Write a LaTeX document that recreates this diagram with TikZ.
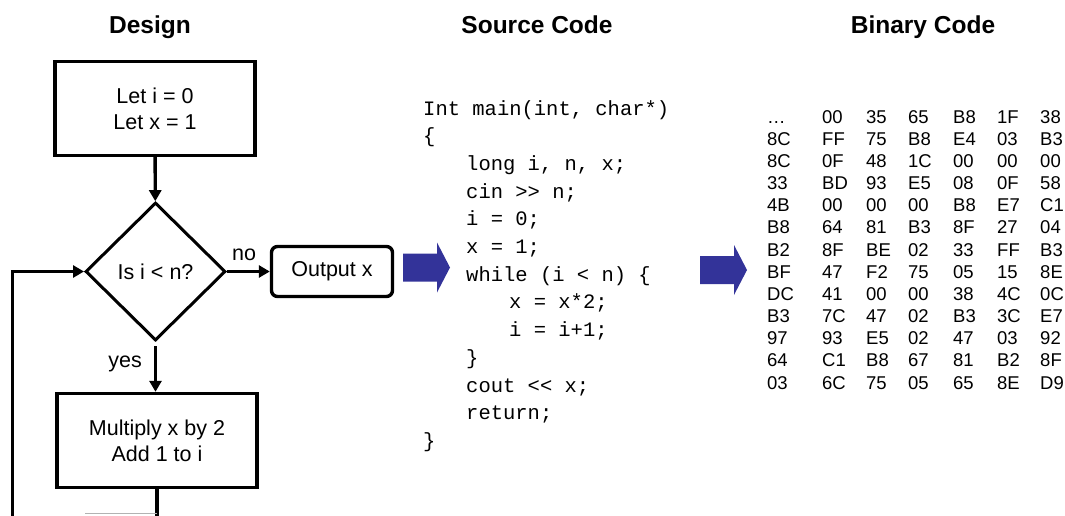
\documentclass[tikz,border=0pt]{standalone}
\usepackage{fontspec}
\setmainfont{Liberation Sans}
\setmonofont{Liberation Mono}
\usetikzlibrary{arrows.meta,shapes.geometric,positioning}
\definecolor{arrowblue}{RGB}{51,51,153}

\begin{document}
\begin{tikzpicture}[x=1pt,y=-1pt,
  title/.style={font=\bfseries\fontsize{24.5}{28}\selectfont,anchor=base,inner sep=0pt},
  stepbox/.style={draw,line width=3.4pt,align=center,minimum width=200pt,minimum height=94pt,font=\fontsize{21.5}{26}\selectfont},
  testbox/.style={diamond,draw,line width=3pt,minimum width=140pt,minimum height=138pt,inner sep=0pt,font=\fontsize{21.5}{24}\selectfont},
  outbox/.style={draw,line width=3.4pt,rounded corners=6pt,minimum width=121pt,minimum height=50pt,font=\fontsize{21.5}{24}\selectfont},
  flow/.style={line width=3.4pt,-{Triangle[length=11pt,width=12pt]}},
  lab/.style={font=\fontsize{21.5}{24}\selectfont,inner sep=0pt},
  code/.style={font=\ttfamily\fontsize{20.5}{24}\selectfont,anchor=base west,inner sep=0pt},
  hex/.style={font=\fontsize{18.5}{20}\selectfont,anchor=base west,inner sep=0pt}]
\useasboundingbox (0,0) rectangle (1065,515);
\clip (0,0) rectangle (1065,515);

\node[title] (design) at (150,33) {Design};
\node[title] (source) at (537,33) {Source Code};
\node[title] (binary) at (923,33) {Binary Code};

% flow chart
\node[stepbox] (init) at (155,108.5) {Let i = 0\\Let x = 1};
\node[testbox] (test) at (155.5,271.5) {Is i < n?};
\node[outbox] (output) at (332,271.5) {Output x};
\node[stepbox] (mult) at (157,440.5) {Multiply x by 2\\Add 1 to i};
\coordinate (loop) at (12.5,540);

\draw[flow] (init) -- (test);
\draw[flow] (test.east) -- node[lab,above=9pt,pos=0.4] {no} (output.west);
\draw[flow,shorten <=4pt] (test.south) -- node[lab,left=12pt,pos=0.45] {yes} (mult.north -| test.south);
\draw[line width=3.4pt] (mult.south) -- (mult.south |- loop);
\draw[flow] (loop) |- (test.west);
\draw[gray!60,line width=1pt] (85,513.5) -- (mult.south |- 0,513.5);

% block arrows
\foreach \ax/\ay in {403/267.5,700/270}
  \fill[arrowblue] (\ax,\ay-14) -- ++(34,0) -- ++(0,-11) -- (\ax+47,\ay) -- (\ax+34,\ay+25) -- ++(0,-11) -- (\ax,\ay+14) -- cycle;

% source code
\foreach \ind/\txt [count=\i] in {0/{Int main(int, char*)},0/{\{},1/{long i, n, x;},1/{cin >> n;},1/{i = 0;},1/{x = 1;},1/{while (i < n) \{},2/{x = x*2;},2/{i = i+1;},1/{\}},1/{cout << x;},1/{return;},0/{\}}}
  \node[code] (code\i) at ({423+43*\ind},{115+27.7*(\i-1)}) {\txt};

% binary code
\foreach \row [count=\r] in {{…,00,35,65,B8,1F,38},{8C,FF,75,B8,E4,03,B3},{8C,0F,48,1C,00,00,00},{33,BD,93,E5,08,0F,58},{4B,00,00,00,B8,E7,C1},{B8,64,81,B3,8F,27,04},{B2,8F,BE,02,33,FF,B3},{BF,47,F2,75,05,15,8E},{DC,41,00,00,38,4C,0C},{B3,7C,47,02,B3,3C,E7},{97,93,E5,02,47,03,92},{64,C1,B8,67,81,B2,8F},{03,6C,75,05,65,8E,D9}}
  \foreach \cell [count=\c] in \row {
    \pgfmathsetmacro\cx{{767,822,866,908,953,997,1040}[\c-1]}
    \node[hex] (bin-\r-\c) at ({\cx},{123+22.17*(\r-1)}) {\cell};
  }
\end{tikzpicture}
\end{document}
